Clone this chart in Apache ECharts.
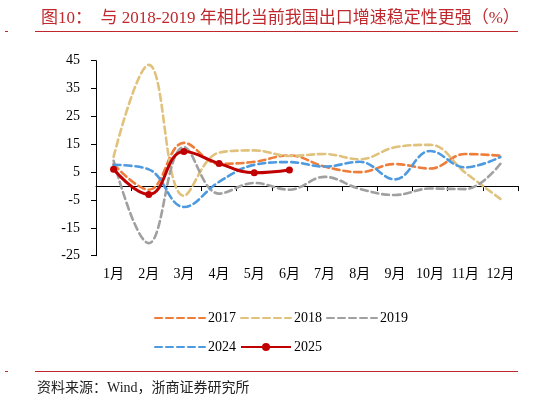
<!DOCTYPE html>
<html><head><meta charset="utf-8">
<script src="https://cdn.jsdelivr.net/npm/echarts@6/dist/echarts.min.js"></script>
<style>html,body{margin:0;padding:0;background:#fff}#c{width:551px;height:402px}</style>
</head><body><div id="c"></div>
<script>
var months = ['1月','2月','3月','4月','5月','6月','7月','8月','9月','10月','11月','12月'];
var yTicks = [45, 35, 25, 15, 5, -5, -15, -25];
var s2017 = [7.9, -1.3, 15.5, 8.0, 8.7, 11.0, 7.0, 5.0, 7.9, 6.3, 11.5, 10.9];
var s2018 = [10.5, 43.5, -3.5, 12.0, 12.8, 10.8, 11.5, 9.6, 13.9, 14.8, 4.8, -4.6];
var s2019 = [9.1, -20.5, 14.0, -2.7, 1.1, -1.3, 3.3, -1.0, -3.2, -0.9, -1.1, 8.0];
var s2024 = [7.6, 6.0, -7.5, 1.5, 7.6, 8.6, 7.0, 8.7, 2.4, 12.6, 6.7, 10.4];
var s2025 = [6.0, -3.0, 12.4, 8.1, 4.8, 5.8];

var FONT = '"Liberation Serif", "Noto Sans CJK SC", serif';
var RED = '#c0282d';
var chart = echarts.init(document.getElementById('c'));
function dashed(name, data, color) {
  return {name: name, type: 'line', data: data, smooth: 0.4, symbol: 'none',
    xAxisIndex: 0, lineStyle: {color: color, width: 2.6, type: [7, 4], cap: 'round'},
    itemStyle: {color: color}, z: 2};
}
function li(name) { return {name: name, itemStyle: {opacity: 0}}; }
chart.setOption({
  animation: false,
  title: {text: '图10：  与 2018-2019 年相比当前我国出口增速稳定性更强（%）', left: 36, top: 5,
    textStyle: {color: RED, fontSize: 17, fontWeight: 'normal', fontFamily: FONT}},
  graphic: [
    {type: 'line', shape: {x1: 35, y1: 31.5, x2: 518, y2: 31.5}, style: {stroke: RED, lineWidth: 1}},
    {type: 'line', shape: {x1: 5, y1: 31.5, x2: 8, y2: 31.5}, style: {stroke: RED, lineWidth: 1}},
    {type: 'line', shape: {x1: 35, y1: 371.5, x2: 518, y2: 371.5}, style: {stroke: RED, lineWidth: 1}},
    {type: 'line', shape: {x1: 5, y1: 371.5, x2: 8, y2: 371.5}, style: {stroke: RED, lineWidth: 1}},
    {type: 'text', left: 37, top: 381, style: {text: '资料来源：Wind，浙商证券研究所', fill: '#222', fontSize: 14, fontFamily: FONT}}
  ],
  legend: [
    {data: [li('2017'), li('2018'), li('2019')], left: 149, top: 306, itemWidth: 50, itemHeight: 10, itemGap: 4,
      textStyle: {fontSize: 14, fontFamily: FONT, color: '#000', padding: [0, 0, 0, -2]}},
    {data: [li('2024'), '2025'], left: 149, top: 335, itemWidth: 50, itemHeight: 10, itemGap: 4,
      textStyle: {fontSize: 14, fontFamily: FONT, color: '#000', padding: [0, 0, 0, -2]}}
  ],
  grid: {left: 96, right: 33, top: 60.7, bottom: 146.3, containLabel: false},
  xAxis: [
    {type: 'category', data: months, boundaryGap: true,
      axisLine: {onZero: true, lineStyle: {color: '#000', width: 1}},
      axisTick: {show: true, length: 5, lineStyle: {color: '#000'}},
      axisLabel: {show: false}},
    {type: 'category', data: months, boundaryGap: true, position: 'bottom',
      axisLine: {show: false, onZero: false}, axisTick: {show: false},
      axisLabel: {color: '#000', fontSize: 14, fontFamily: FONT, margin: 12, interval: 0}}
  ],
  yAxis: {type: 'value', min: -25, max: 45, interval: 10, splitLine: {show: false},
    axisLine: {show: true, lineStyle: {color: '#000'}},
    axisTick: {show: true, length: 5, lineStyle: {color: '#000'}},
    axisLabel: {color: '#000', fontSize: 14, fontFamily: FONT, margin: 16,
      formatter: function (v) { return yTicks.indexOf(v) >= 0 ? String(v) : ''; }}},
  series: [
    dashed('2017', s2017, '#ee7d3a'),
    dashed('2018', s2018, '#e0c27c'),
    dashed('2019', s2019, '#a0a0a0'),
    dashed('2024', s2024, '#4d9ae0'),
    {name: '2025', type: 'line', data: s2025, smooth: 0.45, symbol: 'circle', symbolSize: 7,
      lineStyle: {color: '#c00000', width: 3}, itemStyle: {color: '#c00000'}, z: 5}
  ]
});
</script></body></html>
